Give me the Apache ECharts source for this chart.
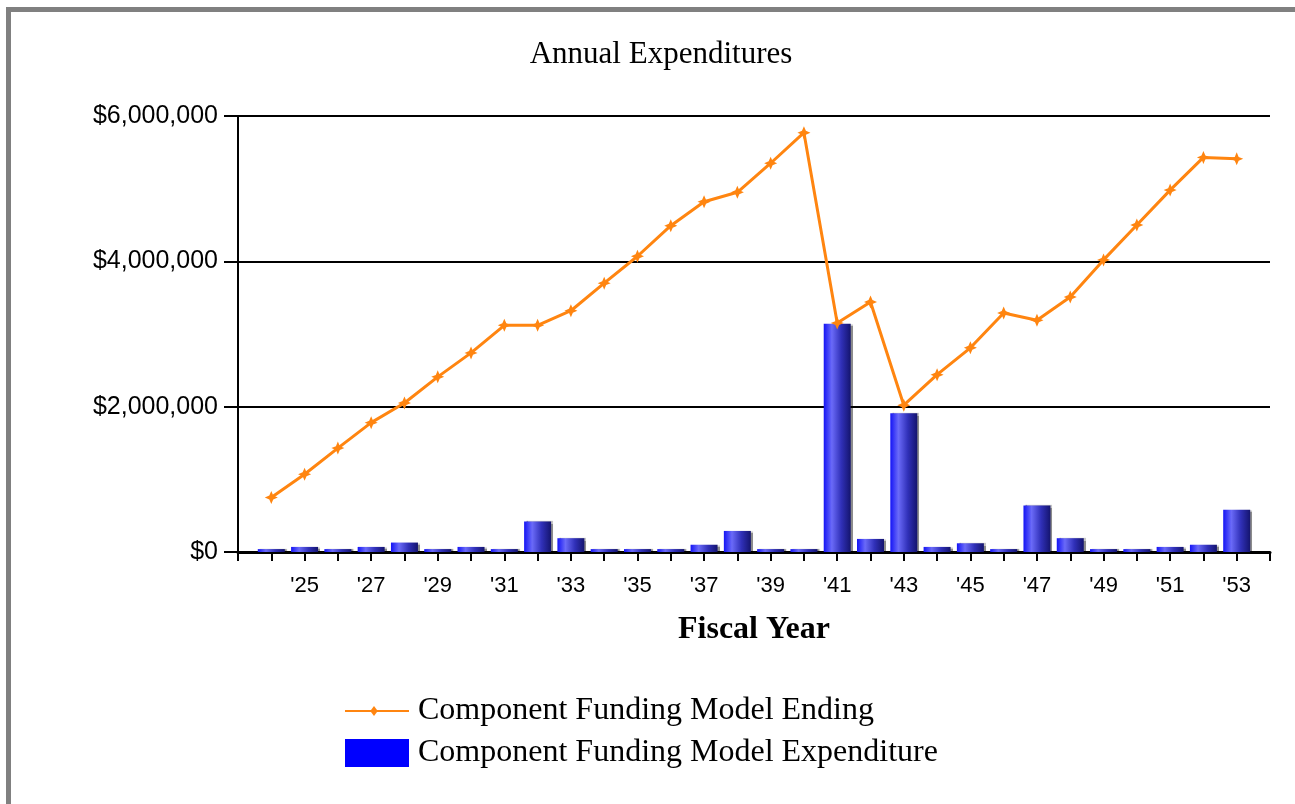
<!DOCTYPE html>
<html>
<head>
<meta charset="utf-8">
<title>Annual Expenditures</title>
<script src="https://cdn.jsdelivr.net/npm/echarts@6/dist/echarts.min.js"></script>
<style>
  html, body { margin: 0; padding: 0; background: #fff; }
  #chart { width: 1295px; height: 804px; }
</style>
</head>
<body>
<div id="chart"></div>
<script>
// fiscal years (2 digit) and values
const years = [24, 25, 26, 27, 28, 29, 30, 31, 32, 33, 34, 35, 36, 37, 38,
  39, 40, 41, 42, 43, 44, 45, 46, 47, 48, 49, 50, 51, 52, 53]
const endingBalance = [750000, 1070000, 1430000, 1780000, 2050000, 2410000, 2740000, 3120000, 3120000, 3320000,
  3700000, 4070000, 4490000, 4820000, 4950000, 5350000, 5770000, 3150000, 3440000, 2020000,
  2440000, 2810000, 3290000, 3190000, 3510000, 4020000, 4500000, 4980000, 5430000, 5410000]
const expenditure = [40000, 70000, 40000, 70000, 130000, 40000, 70000, 40000, 420000, 190000,
  40000, 40000, 40000, 100000, 290000, 40000, 40000, 3140000, 180000, 1910000,
  70000, 120000, 40000, 640000, 190000, 40000, 40000, 70000, 100000, 580000]
const yTicks = [0, 2000000, 4000000, 6000000]

const chart = echarts.init(document.getElementById('chart'))

const star = 'path://M0,-10 L3,-3 L10,0 L3,3 L0,10 L-3,3 L-10,0 L-3,-3 Z'

const option = {
  animation: false,
  title: {
    text: 'Annual Expenditures',
    left: 656,
    top: 34,
    textAlign: 'center',
    textStyle: {
      fontFamily: 'Liberation Serif',
      fontWeight: 'normal',
      fontSize: 31,
      color: '#000'
    }
  },
  legend: {
    orient: 'vertical',
    left: 340,
    top: 690,
    itemWidth: 64,
    itemHeight: 28,
    itemGap: 10,
    textStyle: {
      fontFamily: 'Liberation Serif',
      fontSize: 32,
      color: '#000',
      padding: [0, 0, 0, 4]
    },
    data: [
      { name: 'Component Funding Model Ending', icon: 'path://M0,13 L26,13 L29,9 L32,13 L64,13 L64,15 L32,15 L29,19 L26,15 L0,15 Z' },
      { name: 'Component Funding Model Expenditure', icon: 'rect', itemStyle: { color: '#0000ff', shadowBlur: 0, shadowOffsetX: 0 } }
    ]
  },
  grid: {
    left: 238,
    right: 25,
    top: 116,
    bottom: 252
  },
  xAxis: {
    type: 'value',
    min: 23,
    max: 54,
    interval: 1,
    name: 'Fiscal Year',
    nameLocation: 'middle',
    nameGap: 62,
    nameTextStyle: {
      fontFamily: 'Liberation Serif',
      fontWeight: 'bold',
      fontSize: 32,
      color: '#000'
    },
    axisLine: { show: true, lineStyle: { color: '#000', width: 3 } },
    axisTick: { show: true, length: 9, lineStyle: { color: '#000', width: 2 } },
    splitLine: { show: false },
    axisLabel: {
      margin: 23,
      fontFamily: 'Liberation Sans',
      fontSize: 22,
      color: '#000',
      formatter: function (v) {
        return (v % 2 === 1 && v > 23 && v < 54) ? '\'' + v : ''
      }
    }
  },
  yAxis: {
    type: 'value',
    min: 0,
    max: 6000000,
    interval: 2000000,
    axisLine: { show: true, lineStyle: { color: '#000', width: 2 } },
    axisTick: { show: true, length: 14, lineStyle: { color: '#000', width: 2 } },
    splitLine: { show: true, lineStyle: { color: '#000', width: 2 } },
    axisLabel: {
      margin: 20,
      fontFamily: 'Liberation Sans',
      fontSize: 25,
      color: '#000',
      formatter: function (v) {
        if (yTicks.indexOf(v) < 0) return ''
        return '$' + v.toString().replace(/\B(?=(\d{3})+(?!\d))/g, ',')
      }
    }
  },
  series: [
    {
      name: 'Component Funding Model Expenditure',
      type: 'bar',
      barWidth: 27,
      data: years.map((y, i) => [y, expenditure[i]]),
      itemStyle: {
        color: new echarts.graphic.LinearGradient(0, 0, 1, 0, [
          { offset: 0, color: '#1414f5' },
          { offset: 0.3, color: '#6a6af8' },
          { offset: 0.65, color: '#3030b8' },
          { offset: 1, color: '#14146e' }
        ]),
        shadowColor: 'rgba(0,0,0,0.45)',
        shadowOffsetX: 2,
        shadowOffsetY: 0,
        shadowBlur: 1
      },
      z: 2
    },
    {
      name: 'Component Funding Model Ending',
      type: 'line',
      data: years.map((y, i) => [y, endingBalance[i]]),
      symbol: star,
      symbolSize: 13,
      lineStyle: { color: '#ff8510', width: 3 },
      itemStyle: { color: '#ff8510' },
      z: 3
    }
  ],
  graphic: [
    // outer frame, top and left edge only
    { type: 'rect', shape: { x: 6, y: 7, width: 1289, height: 5 }, style: { fill: '#808080' } },
    { type: 'rect', shape: { x: 6, y: 7, width: 5, height: 797 }, style: { fill: '#808080' } }
  ]
}

chart.setOption(option)
</script>
</body>
</html>
